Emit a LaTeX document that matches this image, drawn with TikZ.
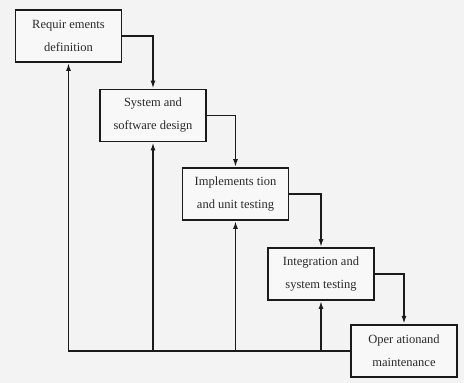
\documentclass[tikz,border=0pt]{standalone}
\usepackage{fontspec}
\setmainfont{Liberation Serif}
\usetikzlibrary{arrows.meta}
\definecolor{bg}{HTML}{F3F3F3}
\definecolor{boxfill}{HTML}{F8F8F8}
\definecolor{ink}{HTML}{1A1A1A}
\definecolor{txt}{HTML}{2A2A2A}
\tikzset{
  phase/.style={draw=ink, line width=1.8pt, fill=boxfill, minimum width=106pt, minimum height=52pt,
    align=center, font=\fontsize{12.5}{23}\selectfont, text=txt, inner sep=2pt},
  flow/.style={draw=ink, line width=1.6pt, -{Latex[length=8pt,width=5pt]}}
}
\begin{document}
\begin{tikzpicture}[x=1pt,y=-1pt]
\useasboundingbox[fill=bg] (0,0) rectangle (464,383);
\node[phase] (b1) at (68.5,36) {Requir ements\\definition};
\node[phase] (b2) at (153,115.5) {System and\\software design};
\node[phase] (b3) at (235.5,194) {Implements tion\\and unit testing};
\node[phase] (b4) at (321,274) {Integration and\\system testing};
\node[phase, line width=2.2pt] (b5) at (404,351) {Oper ationand\\maintenance};
\draw[flow] (b1.east) -| (b2.north);
\draw[flow] (b2.east) -| (b3.north);
\draw[flow] (b3.east) -| (b4.north);
\draw[flow] (b4.east) -| (b5.north);
\draw[flow] (b5.west) -| (b1.south);
\draw[flow] (b2.south |- b5.west) -- (b2.south);
\draw[flow] (b3.south |- b5.west) -- (b3.south);
\draw[flow] (b4.south |- b5.west) -- (b4.south);
\end{tikzpicture}
\end{document}
